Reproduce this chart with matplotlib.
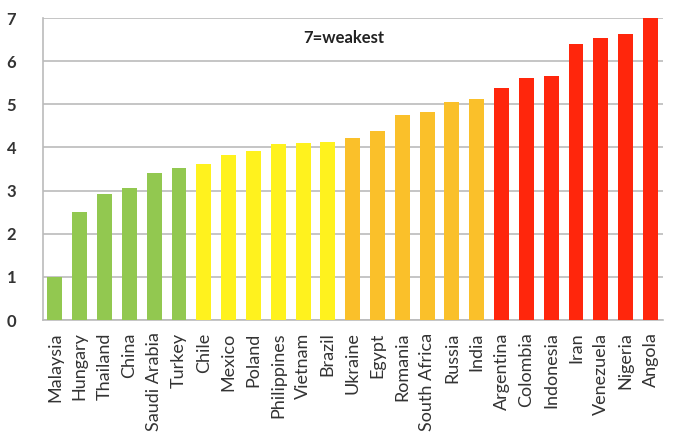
import matplotlib
matplotlib.use("Agg")
import matplotlib.pyplot as plt

countries = ["Malaysia", "Hungary", "Thailand", "China", "Saudi Arabia", "Turkey",
             "Chile", "Mexico", "Poland", "Philippines", "Vietnam", "Brazil",
             "Ukraine", "Egypt", "Romania", "South Africa", "Russia", "India",
             "Argentina", "Colombia", "Indonesia", "Iran", "Venezuela", "Nigeria", "Angola"]
scores = [1.0, 2.50, 2.91, 3.07, 3.41, 3.52,
          3.62, 3.82, 3.92, 4.08, 4.10, 4.13,
          4.21, 4.37, 4.75, 4.81, 5.05, 5.12,
          5.37, 5.60, 5.66, 6.39, 6.53, 6.62, 7.0]
groups = ["green"] * 6 + ["yellow"] * 6 + ["orange"] * 6 + ["red"] * 7
group_colors = {"green": "#92C850", "yellow": "#FFF21E", "orange": "#FAC02A", "red": "#FF260C"}
y_ticks = [0, 1, 2, 3, 4, 5, 6, 7]
note = "7=weakest"

plt.rcParams["font.family"] = ["Lato", "DejaVu Sans"]

fig = plt.figure(figsize=(6.75, 4.38), dpi=100)
ax = fig.add_axes([0.063, 0.2694, 0.919, 0.6895])

x = range(len(countries))
ax.bar(x, scores, width=0.6, color=[group_colors[g] for g in groups], zorder=3)

ax.set_xlim(-0.5, len(countries) - 0.5)
ax.set_ylim(0, 7)
ax.set_yticks(y_ticks)
ax.set_yticklabels([str(t) for t in y_ticks], fontsize=12, fontweight="bold", color="#333333")
ax.set_xticks(list(x))
ax.set_xticklabels(countries, rotation=90, fontsize=13, color="#333333")
ax.tick_params(axis="y", length=0, pad=19)
ax.tick_params(axis="x", length=0, pad=9)

ax.grid(axis="y", color="#BBBBBB", linewidth=1.2, zorder=0)
for s in ["top", "right"]:
    ax.spines[s].set_visible(False)
for s in ["left", "bottom"]:
    ax.spines[s].set_color("#BBBBBB")
    ax.spines[s].set_linewidth(1.2)

ax.text(0.486, 0.934, note, transform=ax.transAxes, ha="center", va="center",
        fontsize=12, fontweight="bold", color="#222222")

fig.savefig("out.png", dpi=100)
